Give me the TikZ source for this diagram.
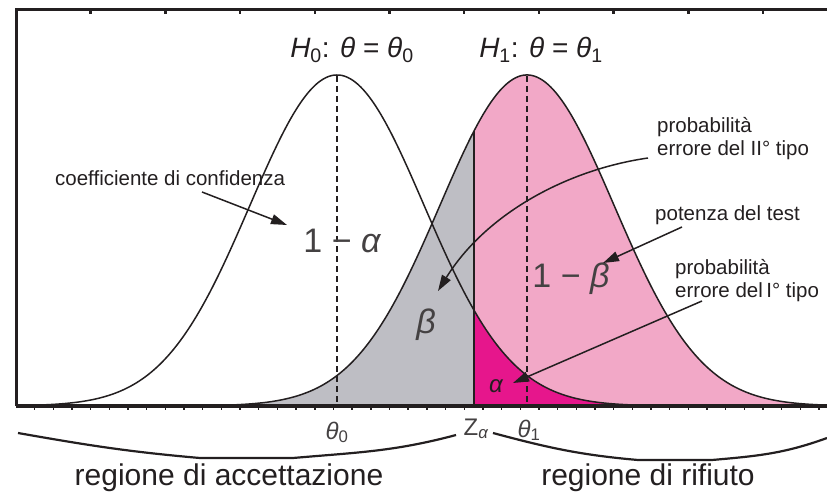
\documentclass[tikz,border=0pt]{standalone}
\usepackage{fontspec}
\setmainfont{Liberation Sans}
\usetikzlibrary{arrows.meta}
\definecolor{pinkA}{HTML}{F2A8C7}
\definecolor{greyA}{HTML}{BEBEC4}
\definecolor{magA}{HTML}{E6168C}
\definecolor{inkA}{HTML}{231F20}
\begin{document}
\begin{tikzpicture}[x=1pt,y=-1pt,
  declare function={g0(\x)=406-331*exp(-0.5*((\x-337)/87)^2);
                    g1(\x)=406-331*exp(-0.5*((\x-527)/87)^2);},
  curve/.style={draw=inkA,line width=1.5pt},
  peakline/.style={draw=inkA,line width=2pt,dash pattern=on 6pt off 4pt},
  frameline/.style={draw=inkA,line width=2.8pt},
  pointer/.style={draw=inkA,line width=1.5pt,-{Triangle[length=16pt,width=10pt]}},
  small/.style={font=\fontsize{20.5}{23}\selectfont,inner sep=0pt,text=inkA,align=left},
  big/.style={font=\fontsize{34}{40}\selectfont,inner sep=0pt,text=inkA!85},
  title/.style={font=\fontsize{28}{32}\selectfont,inner sep=0pt,text=inkA},
  axislab/.style={font=\fontsize{24}{28}\selectfont,inner sep=0pt,text=inkA!85},
  region/.style={font=\fontsize{30}{34}\selectfont,inner sep=0pt,text=inkA},
  bracepath/.style={draw=inkA,line width=2.2pt}
]
\useasboundingbox (0,0) rectangle (827,497);

% filled areas
\fill[greyA] (17,406) -- plot[domain=17:474,samples=150] (\x,{g1(\x)}) -- (474,406) -- cycle;
\fill[pinkA] (474,406) -- plot[domain=474:827,samples=150] (\x,{g1(\x)}) -- (827,406) -- cycle;
\fill[magA] (474,406) -- plot[domain=474:827,samples=150] (\x,{g0(\x)}) -- (827,406) -- cycle;

% curves
\draw[curve] plot[domain=17:827,samples=300] (\x,{g0(\x)});
\draw[curve] plot[domain=17:827,samples=300] (\x,{g1(\x)});

% critical value line
\coordinate (zb) at (474,406);
\coordinate (zt) at (474,{g1(474)});
\draw[draw=inkA,line width=1.8pt] (zb) -- (zt);

% peak lines
\coordinate (p0t) at (337,76);
\coordinate (p0b) at (337,406);
\coordinate (p1t) at (527,76);
\coordinate (p1b) at (527,406);
\draw[peakline] (p0t) -- (p0b);
\draw[peakline] (p1t) -- (p1b);

% frame
\coordinate (fo) at (16.3,406);
\coordinate (ftl) at (16.3,9.5);
\coordinate (ftr) at (827,9.5);
\coordinate (fbr) at (827,406);
\draw[frameline] (fo) -- (ftl) -- (ftr);
\draw[draw=inkA,line width=3.2pt] (fo) -- (fbr);
\foreach \k in {1,...,10} \draw[draw=inkA,line width=2.5pt] ({16+74.7*\k},9.5) -- ++(0,4.5);
\foreach \k in {1,...,43} \draw[draw=inkA,line width=1.4pt] ({16+18.675*\k},406) -- ++(0,4);

% labels
\node[title] (h0) at (352,50) {{\itshape H}\textsubscript{0}: {\itshape θ} = {\itshape θ}\textsubscript{0}};
\node[title] (h1) at (541,50) {{\itshape H}\textsubscript{1}: {\itshape θ} = {\itshape θ}\textsubscript{1}};

\node[big,anchor=base] (oma) at (342,252) {1 − {\itshape α}};
\node[big,anchor=base] (bet) at (426,333) {\itshape β};
\node[big,anchor=base] (omb) at (571,287) {1 − {\itshape β}};
\node[font=\fontsize{24}{28}\selectfont,inner sep=0pt,text=inkA,anchor=base] (alp) at (496,392) {\itshape α};

\node[small,anchor=west] (coef) at (55,178) {coefficiente di confidenza};
\node[small,anchor=west] (err2) at (657,139) {probabilità\\errore del II° tipo};
\node[small,anchor=west] (pot) at (655,215) {potenza del test};
\node[small,anchor=west] (err1) at (675,281) {probabilità\\errore del\,I° tipo};

\node[axislab,anchor=base] (th0) at (337,439) {{\itshape θ}\textsubscript{0}};
\node[axislab,anchor=base] (za) at (476,435) {Z\textsubscript{{\itshape α}}};
\node[axislab,anchor=base] (th1) at (529,437) {{\itshape θ}\textsubscript{1}};

% pointers
\coordinate (c1s) at (202,192);
\coordinate (c1t) at (287,225);
\draw[pointer] (c1s) -- (c1t);
\coordinate (c2s) at (648,158);
\coordinate (c2t) at (438,291);
\draw[pointer] (c2s) .. controls (565,170) and (485,215) .. (c2t);
\coordinate (c3s) at (682,227);
\coordinate (c3t) at (603,263);
\draw[pointer] (c3s) -- (c3t);
\coordinate (c4s) at (702,301);
\coordinate (c4t) at (513,383);
\draw[pointer] (c4s) -- (c4t);

% braces
\coordinate (b1a) at (18,433);
\coordinate (b1b) at (200,458);
\coordinate (b1c) at (293,458);
\coordinate (b1d) at (456,435);
\draw[bracepath] (b1a) to[out=-10,in=175] (b1b) -- (b1c) to[out=5,in=195] (b1d);
\coordinate (b2a) at (493,433);
\coordinate (b2b) at (638,460);
\coordinate (b2c) at (712,460);
\coordinate (b2d) at (827,438);
\draw[bracepath] (b2a) to[out=-15,in=175] (b2b) -- (b2c) to[out=5,in=200] (b2d);

\node[region] (acc) at (229,478) {regione di accettazione};
\node[region] (rif) at (648,478) {regione di rifiuto};
\end{tikzpicture}
\end{document}
